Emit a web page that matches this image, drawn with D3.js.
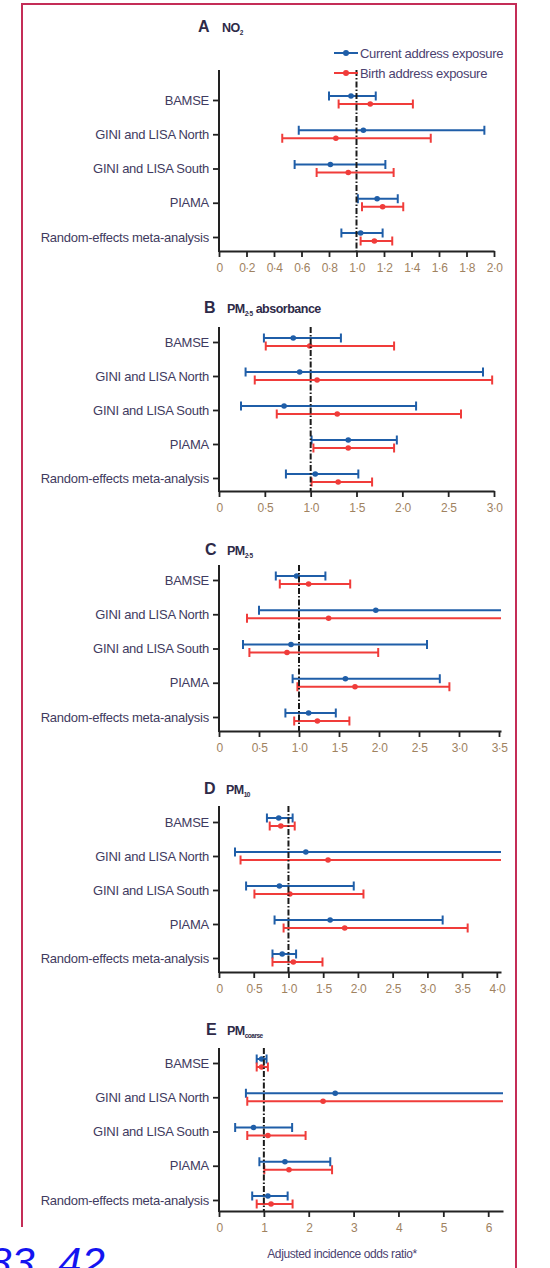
<!DOCTYPE html>
<html lang="en">
<head>
    <meta charset="UTF-8">
    <title>Adjusted incidence odds ratio by pollutant</title>
    <script src="https://d3js.org/d3.v7.min.js"></script>
    <style>
        * { margin: 0; padding: 0; box-sizing: border-box; }
        body { background: #ffffff; width: 550px; height: 1268px; overflow: hidden; }
        svg { display: block; font-family: "Liberation Sans", Arial, sans-serif; }
        .cat-label { font-size: 13px; fill: #3f3b60; letter-spacing: -0.25px; }
        .tick-label { font-size: 12px; fill: #a0825f; letter-spacing: -0.6px; }
        .title-letter { font-size: 16px; font-weight: bold; fill: #2e2a48; }
        .title-text { font-size: 12.5px; font-weight: bold; fill: #2e2a48; letter-spacing: -0.5px; }
        .legend-text { font-size: 13px; fill: #4b4270; letter-spacing: -0.3px; }
    </style>
</head>
<body>
<div id="chart"></div>
<script>
    // cohorts (same for every panel)
    const categories = ["BAMSE", "GINI and LISA North", "GINI and LISA South", "PIAMA", "Random-effects meta-analysis"];

    // [lower CI, odds ratio, upper CI] per cohort
    // upper limits beyond the axis end are estimates (the bar runs off the plot)
    const no2Current   = [[0.80, 0.96, 1.14], [0.58, 1.05, 1.93], [0.55, 0.81, 1.21], [1.01, 1.15, 1.30], [0.89, 1.03, 1.19]];
    const no2Birth     = [[0.87, 1.10, 1.41], [0.46, 0.85, 1.54], [0.71, 0.94, 1.27], [1.04, 1.19, 1.34], [1.03, 1.13, 1.26]];
    const absCurrent   = [[0.49, 0.81, 1.33], [0.29, 0.88, 2.88], [0.24, 0.71, 2.15], [1.01, 1.41, 1.94], [0.73, 1.05, 1.52]];
    const absBirth     = [[0.51, 0.99, 1.91], [0.39, 1.07, 2.98], [0.63, 1.29, 2.64], [1.03, 1.41, 1.91], [1.01, 1.30, 1.67]];
    const pm25Current  = [[0.71, 0.97, 1.33], [0.50, 1.96, 4.20], [0.30, 0.90, 2.60], [0.92, 1.58, 2.76], [0.83, 1.12, 1.46]];
    const pm25Birth    = [[0.76, 1.12, 1.64], [0.35, 1.37, 5.40], [0.38, 0.85, 1.99], [0.98, 1.70, 2.88], [0.94, 1.23, 1.63]];
    const pm10Current  = [[0.69, 0.86, 1.06], [0.23, 1.25, 6.90], [0.39, 0.87, 1.94], [0.80, 1.60, 3.22], [0.77, 0.91, 1.11]];
    const pm10Birth    = [[0.73, 0.89, 1.09], [0.31, 1.57, 7.80], [0.51, 1.02, 2.08], [0.93, 1.81, 3.58], [0.77, 1.07, 1.49]];
    const coarseCurrent = [[0.84, 0.95, 1.06], [0.60, 2.59, 11.0], [0.36, 0.77, 1.63], [0.90, 1.47, 2.48], [0.74, 1.09, 1.53]];
    const coarseBirth   = [[0.84, 0.95, 1.09], [0.63, 2.32, 8.50], [0.63, 1.09, 1.93], [1.01, 1.56, 2.52], [0.84, 1.16, 1.64]];

    // x ticks per panel
    const no2Ticks    = [0, 0.2, 0.4, 0.6, 0.8, 1.0, 1.2, 1.4, 1.6, 1.8, 2.0];
    const absTicks    = [0, 0.5, 1.0, 1.5, 2.0, 2.5, 3.0];
    const pm25Ticks   = [0, 0.5, 1.0, 1.5, 2.0, 2.5, 3.0, 3.5];
    const pm10Ticks   = [0, 0.5, 1.0, 1.5, 2.0, 2.5, 3.0, 3.5, 4.0];
    const coarseTicks = [0, 1, 2, 3, 4, 5, 6];

    const seriesNames = ["Current address exposure", "Birth address exposure"];
    const seriesColors = ["#1f5ea8", "#f03c3a"];

    // layout for each panel: title position, y-axis top, first/last row, x-axis line, axis end
    const panels = [
        { letter: "A", title: [["NO", false], ["2", true]], current: no2Current, birth: no2Birth,
          ticks: no2Ticks, dec: 1, xMax: 2.0, xEnd: 494, lx: 198, tx: 222, titleY: 32, top: 70, rows: [100, 237], base: 251, legend: true },
        { letter: "B", title: [["PM", false], ["2·5", true], [" absorbance", false]], current: absCurrent, birth: absBirth,
          ticks: absTicks, dec: 1, xMax: 3.0, xEnd: 494, lx: 204, tx: 227, titleY: 313, top: 327, rows: [342, 478], base: 491 },
        { letter: "C", title: [["PM", false], ["2·5", true]], current: pm25Current, birth: pm25Birth,
          ticks: pm25Ticks, dec: 1, xMax: 3.525, xEnd: 501, lx: 205, tx: 227, titleY: 555, top: 565, rows: [580, 717], base: 731 },
        { letter: "D", title: [["PM", false], ["10", true]], current: pm10Current, birth: pm10Birth,
          ticks: pm10Ticks, dec: 1, xMax: 4.06, xEnd: 501, lx: 204, tx: 226, titleY: 794, top: 806, rows: [822, 958], base: 972 },
        { letter: "E", title: [["PM", false], ["coarse", true]], current: coarseCurrent, birth: coarseBirth,
          ticks: coarseTicks, dec: 0, xMax: 6.33, xEnd: 503, lx: 206, tx: 227, titleY: 1035, top: 1048, rows: [1063, 1200], base: 1211 }
    ];

    const axisX = 219;
    const capH = 4.5;
    const offsets = [-4, 4];

    const svg = d3.select("#chart").append("svg")
        .attr("width", 550)
        .attr("height", 1268);

    // page frame (bottom is cut off)
    svg.append("path")
        .attr("d", "M22,1227 V4 H516 V1268")
        .attr("fill", "none")
        .attr("stroke", "#c42d57")
        .attr("stroke-width", 2);

    const fmt = (d, dec) => d === 0 ? "0" : d.toFixed(dec).replace(".", "·");

    panels.forEach(p => {
        const g = svg.append("g");

        const x = d3.scaleLinear().domain([0, p.xMax]).range([axisX, p.xEnd]);
        const y = d3.scalePoint().domain(categories).range(p.rows);

        // title: panel letter, then pollutant with subscript
        const t = g.append("text").attr("y", p.titleY);
        t.append("tspan").attr("class", "title-letter").attr("x", p.lx).text(p.letter);
        let prevSub = false;
        p.title.forEach(([txt, sub], i) => {
            const s = t.append("tspan").attr("class", "title-text").text(txt);
            if (i === 0) s.attr("x", p.tx);
            if (sub) s.attr("dy", 3).style("font-size", "6.5px");
            else if (prevSub) s.attr("dy", -3);
            prevSub = sub;
        });

        // x axis
        const xAxis = g.append("g")
            .attr("transform", `translate(0,${p.base})`)
            .call(d3.axisBottom(x).tickValues(p.ticks).tickSize(6).tickSizeOuter(0).tickPadding(6)
                .tickFormat(d => fmt(d, p.dec)));
        xAxis.select(".domain").attr("stroke", "#222").attr("stroke-width", 2);
        xAxis.selectAll(".tick line").attr("stroke", "#222").attr("stroke-width", 1.8);
        xAxis.selectAll(".tick text").attr("class", "tick-label").attr("fill", null);

        // y axis
        const yAxis = g.append("g")
            .attr("transform", `translate(${axisX},0)`)
            .call(d3.axisLeft(y).tickSize(6).tickPadding(4));
        yAxis.select(".domain").remove();
        yAxis.selectAll(".tick line").attr("stroke", "#222").attr("stroke-width", 1.8);
        yAxis.selectAll(".tick text").attr("class", "cat-label").attr("fill", null);
        g.append("line")
            .attr("x1", axisX).attr("x2", axisX)
            .attr("y1", p.top).attr("y2", p.base + 1)
            .attr("stroke", "#222").attr("stroke-width", 2);

        // error bars
        [p.current, p.birth].forEach((series, si) => {
            const col = seriesColors[si];
            const rows = g.append("g").selectAll("g")
                .data(series.map((v, i) => ({ cat: categories[i], lo: v[0], or: v[1], hi: v[2] })))
                .join("g")
                .attr("transform", d => `translate(0,${y(d.cat) + offsets[si]})`);
            rows.append("line")
                .attr("x1", d => x(d.lo))
                .attr("x2", d => x(Math.min(d.hi, p.xMax)))
                .attr("stroke", col).attr("stroke-width", 2);
            rows.append("line")
                .attr("x1", d => x(d.lo)).attr("x2", d => x(d.lo))
                .attr("y1", -capH).attr("y2", capH)
                .attr("stroke", col).attr("stroke-width", 2);
            rows.filter(d => d.hi <= p.xMax).append("line")
                .attr("x1", d => x(d.hi)).attr("x2", d => x(d.hi))
                .attr("y1", -capH).attr("y2", capH)
                .attr("stroke", col).attr("stroke-width", 2);
            rows.append("circle")
                .attr("cx", d => x(d.or))
                .attr("r", 2.8)
                .attr("fill", col);
        });

        // reference line at OR = 1
        g.append("line")
            .attr("x1", x(1)).attr("x2", x(1))
            .attr("y1", p.top).attr("y2", p.base)
            .attr("stroke", "#1a1a1a").attr("stroke-width", 2)
            .attr("stroke-dasharray", "6,2,1.5,2");

        if (p.legend) {
            const lg = g.append("g");
            seriesNames.forEach((name, i) => {
                const ly = 53 + i * 20;
                lg.append("line").attr("x1", 334).attr("x2", 358).attr("y1", ly).attr("y2", ly)
                    .attr("stroke", seriesColors[i]).attr("stroke-width", 2);
                lg.append("circle").attr("cx", 346).attr("cy", ly).attr("r", 3).attr("fill", seriesColors[i]);
                lg.append("text").attr("class", "legend-text").attr("x", 360).attr("y", ly).attr("dy", "0.35em").text(name);
            });
        }
    });

    // x axis title under the last panel
    svg.append("text")
        .attr("class", "legend-text")
        .attr("x", 342).attr("y", 1258)
        .attr("text-anchor", "middle")
        .style("font-size", "12px")
        .style("letter-spacing", "-0.4px")
        .text("Adjusted incidence odds ratio*");

    // stray page number at the bottom left, cut by the page edge as in the scan
    svg.append("text")
        .attr("x", -12).attr("y", 1277)
        .style("font-style", "italic")
        .style("font-size", "42px")
        .attr("fill", "#1414f0")
        .text("83, 42");
</script>
</body>
</html>
